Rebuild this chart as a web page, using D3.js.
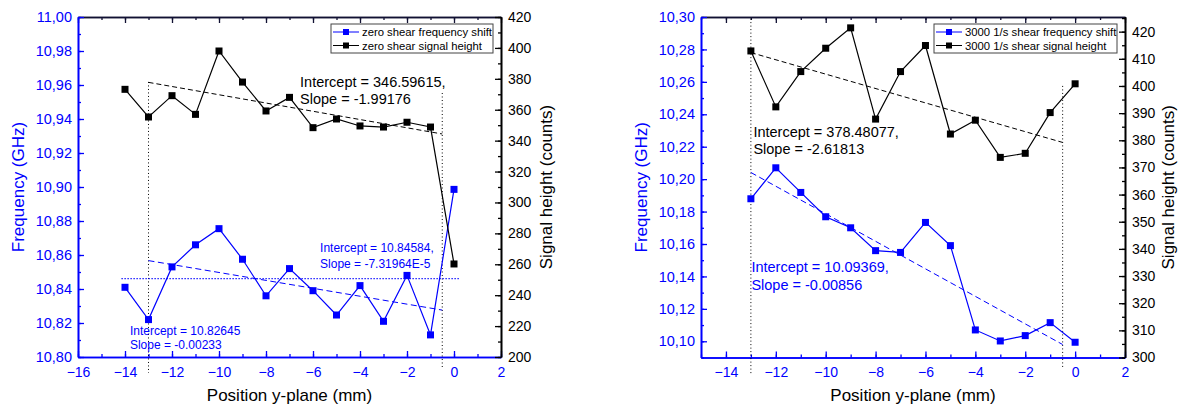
<!DOCTYPE html>
<html><head><meta charset="utf-8">
<script src="https://cdn.jsdelivr.net/npm/d3@7"></script>
<style>body{margin:0;background:#fff} text{font-family:"Liberation Sans",Arial,sans-serif}</style>
</head><body><svg id="c" width="1180" height="409"></svg>
<script>
// ---------- data ----------
const positionsA = [-14,-13,-12,-11,-10,-9,-8,-7,-6,-5,-4,-3,-2,-1,0];
const freqA   = [10.841,10.822,10.853,10.866,10.8755,10.8575,10.836,10.852,10.839,10.8247,10.842,10.821,10.848,10.813,10.8986];
const signalA = [373.2,355.3,369.1,357.0,398.0,377.9,359.2,368.0,348.4,354.0,349.5,348.8,351.9,348.8,260.2];

const positionsB = [-13,-12,-11,-10,-9,-8,-7,-6,-5,-4,-3,-2,-1,0];
const freqB   = [10.1879,10.2070,10.1918,10.1768,10.1700,10.1559,10.1548,10.1733,10.1590,10.1070,10.1002,10.1035,10.1115,10.0994];
const signalB = [412.9,392.3,405.3,413.9,421.4,387.8,405.3,414.9,382.3,387.4,373.7,375.2,390.2,400.8];

// linear-fit segments (x, value)
const fitSignalA = [[-13,377.7],[-0.5,344.3]];
const fitFreqA   = [[-13,10.8567],[-0.5,10.8276]];
const meanFreqA  = [[-14.15,10.8461],[0.23,10.8461]];
const fitSignalB = [[-13,412.3],[-0.5,379.2]];
const fitFreqB   = [[-13,10.2041],[-0.5,10.0980]];
// vertical range markers (x, top value on frequency axis)
const rangeMarksA = [[-13,10.9618],[-0.5,10.9553]];
const rangeMarksB = [[-13,10.299],[-0.5,10.2575]];

// ticks
const xTicksA = [-16,-14,-12,-10,-8,-6,-4,-2,0,2];
const xTicksB = [-14,-12,-10,-8,-6,-4,-2,0,2];
const freqTicksA = [10.80,10.82,10.84,10.86,10.88,10.90,10.92,10.94,10.96,10.98,11.00];
const freqTicksB = [10.10,10.12,10.14,10.16,10.18,10.20,10.22,10.24,10.26,10.28,10.30];
const signalTicksA = [200,220,240,260,280,300,320,340,360,380,400,420];
const signalTicksB = [300,310,320,330,340,350,360,370,380,390,400,410,420];

// labels
const legendA = ["zero shear frequency shift","zero shear signal height"];
const legendB = ["3000 1/s shear frequency shift","3000 1/s shear signal height"];
const xTitle = "Position y-plane (mm)";
const yTitleL = "Frequency (GHz)";
const yTitleR = "Signal height (counts)";
// annotations: [x, value, axis, color, lines, font size, line step]
const notesA = [
  [-6.55, 374.7, "s", "#000", ["Intercept = 346.59615,","Slope = -1.99176"], 14.5, 17],
  [-13.79, 10.8129, "f", "#0000ff", ["Intercept = 10.82645","Slope = -0.00233"], 12, 14],
  [-5.70, 10.8618, "f", "#0000ff", ["Intercept = 10.84584,","Slope = -7.31964E-5"], 12, 16]
];
const notesB = [
  [-12.90, 381.3, "s", "#000", ["Intercept = 378.48077,","Slope = -2.61813"], 14.5, 17],
  [-12.98, 10.1429, "f", "#0000ff", ["Intercept = 10.09369,","Slope = -0.00856"], 14.5, 18]
];

const BLUE = "#0000ff";
const svg = d3.select("#c");
const fmtF = v => d3.format(".2f")(v).replace(".", ",");

function panel(cfg){
  const g = svg.append("g");
  const x = d3.scaleLinear().domain(cfg.xDomain).range([cfg.left, cfg.right]);
  const yf = d3.scaleLinear().domain(cfg.fDomain).range([cfg.bottom, cfg.top]);
  const ys = d3.scaleLinear().domain(cfg.sDomain).range([cfg.bottom, cfg.top]);

  const xMinor = d3.range(cfg.xDomain[0], cfg.xDomain[1] + 0.001, 1);
  const fMinor = d3.range(Math.round(cfg.fDomain[0]*100), Math.round(cfg.fDomain[1]*100)+1).map(v => v/100);
  const sMinor = d3.range(cfg.sDomain[0], cfg.sDomain[1] + 0.001, cfg.sMinorStep);

  const ax = (axis, tr, color) => {
    const a = g.append("g").attr("transform", tr).call(axis);
    a.selectAll("path.domain").attr("stroke", color).attr("stroke-width", 1.6);
    a.selectAll(".tick line").attr("stroke", color).attr("stroke-width", 1.3);
    a.selectAll("text").attr("fill", color);
    return a;
  };
  ax(d3.axisBottom(x).tickValues(xMinor).tickSizeInner(-3).tickSizeOuter(0).tickFormat(""), `translate(0,${cfg.bottom})`, BLUE);
  ax(d3.axisBottom(x).tickValues(cfg.xTicks).tickSizeInner(-6).tickSizeOuter(0).tickPadding(10).tickFormat(d3.format("d")),
     `translate(0,${cfg.bottom})`, BLUE).selectAll("text").style("font-size","14px");
  ax(d3.axisTop(x).tickValues(xMinor).tickSizeInner(-3).tickSizeOuter(0).tickFormat(""), `translate(0,${cfg.top})`, "#111133");
  ax(d3.axisTop(x).tickValues(cfg.xTicks).tickSizeInner(-6).tickSizeOuter(0).tickFormat(""), `translate(0,${cfg.top})`, "#111133");
  ax(d3.axisLeft(yf).tickValues(fMinor).tickSizeInner(-3).tickSizeOuter(0).tickFormat(""), `translate(${cfg.left},0)`, BLUE);
  ax(d3.axisLeft(yf).tickValues(cfg.fTicks).tickSizeInner(-6).tickSizeOuter(0).tickPadding(6).tickFormat(fmtF),
     `translate(${cfg.left},0)`, BLUE).selectAll("text").style("font-size","14.5px");
  ax(d3.axisRight(ys).tickValues(sMinor).tickSizeInner(-3).tickSizeOuter(0).tickFormat(""), `translate(${cfg.right},0)`, "#000");
  ax(d3.axisRight(ys).tickValues(cfg.sTicks).tickSizeInner(-6).tickSizeOuter(0).tickPadding(7).tickFormat(d3.format("d")),
     `translate(${cfg.right},0)`, "#000").selectAll("text").style("font-size","14px");

  g.append("text").attr("x", (cfg.left+cfg.right)/2).attr("y", 401).attr("text-anchor","middle")
    .style("font-size","17px").attr("fill","#000").text(xTitle);
  g.append("text").attr("transform", `translate(${cfg.yTitleLX},${(cfg.top+cfg.bottom)/2}) rotate(-90)`)
    .attr("text-anchor","middle").attr("dy","0.35em").style("font-size","17px").attr("fill",BLUE).text(yTitleL);
  g.append("text").attr("transform", `translate(${cfg.yTitleRX},${(cfg.top+cfg.bottom)/2}) rotate(-90)`)
    .attr("text-anchor","middle").attr("dy","0.35em").style("font-size","17px").attr("fill","#000").text(yTitleR);

  cfg.marks.forEach(m => {
    g.append("line").attr("x1", x(m[0])).attr("x2", x(m[0])).attr("y1", yf(m[1])).attr("y2", cfg.bottom + (m[0] < -5 ? 16 : 11))
      .attr("stroke","#000").attr("stroke-width",1).attr("stroke-dasharray","1,2.5");
  });

  const seg = (pts, sc, color, dash, w) => g.append("path")
    .attr("d", d3.line().x(d => x(d[0])).y(d => sc(d[1]))(pts))
    .attr("fill","none").attr("stroke",color).attr("stroke-width",w).attr("stroke-dasharray",dash);
  seg(cfg.fitS, ys, "#000", "5,3", 1);
  seg(cfg.fitF, yf, BLUE, "6,3.5", 1);
  if (cfg.meanF) seg(cfg.meanF, yf, BLUE, "1.3,1.7", 1.1);

  const series = (xs, vs, sc, color) => {
    const pts = xs.map((d,i) => [d, vs[i]]);
    g.append("path").attr("d", d3.line().x(d => x(d[0])).y(d => sc(d[1]))(pts))
      .attr("fill","none").attr("stroke",color).attr("stroke-width",1.2);
    g.selectAll(null).data(pts).enter().append("rect")
      .attr("x", d => x(d[0]) - 3.5).attr("y", d => sc(d[1]) - 3.5).attr("width",7).attr("height",7).attr("fill",color);
  };
  series(cfg.xs, cfg.freq, yf, BLUE);
  series(cfg.xs, cfg.sig, ys, "#000");

  cfg.notes.forEach(n => {
    const sc = n[2] === "s" ? ys : yf;
    n[4].forEach((t, i) => {
      g.append("text").attr("x", x(n[0])).attr("y", sc(n[1]) + i*n[6]).attr("fill", n[3])
        .style("font-size", n[5] + "px").text(t);
    });
  });

  const lx = cfg.right - 8 - cfg.legendW, ly = cfg.top + 7;
  g.append("rect").attr("x", lx).attr("y", ly).attr("width", cfg.legendW).attr("height", 29)
    .attr("fill","#fff").attr("stroke","#444").attr("stroke-width",1);
  [[BLUE, cfg.legend[0]], ["#000", cfg.legend[1]]].forEach((e, i) => {
    const cy = ly + 8 + i*13.5;
    g.append("line").attr("x1", lx+2).attr("x2", lx+28).attr("y1", cy).attr("y2", cy).attr("stroke", e[0]).attr("stroke-width",1);
    g.append("rect").attr("x", lx+15-3).attr("y", cy-3).attr("width",6).attr("height",6).attr("fill", e[0]);
    g.append("text").attr("x", lx+31).attr("y", cy+4).style("font-size","11.3px").attr("fill","#000").text(e[1]);
  });
}

panel({left:78, right:501, top:17, bottom:357, xDomain:[-16,2], fDomain:[10.80,11.00], sDomain:[200,420], sMinorStep:10,
  xTicks:xTicksA, fTicks:freqTicksA, sTicks:signalTicksA, xs:positionsA, freq:freqA, sig:signalA,
  fitS:fitSignalA, fitF:fitFreqA, meanF:meanFreqA, marks:rangeMarksA, notes:notesA, legend:legendA, legendW:162,
  yTitleLX:18, yTitleRX:546});
panel({left:701, right:1125, top:17, bottom:357.5, xDomain:[-15,2], fDomain:[10.09,10.30], sDomain:[300,425.4], sMinorStep:5,
  xTicks:xTicksB, fTicks:freqTicksB, sTicks:signalTicksB, xs:positionsB, freq:freqB, sig:signalB,
  fitS:fitSignalB, fitF:fitFreqB, meanF:null, marks:rangeMarksB, notes:notesB, legend:legendB, legendW:183,
  yTitleLX:641, yTitleRX:1168});
</script></body></html>
